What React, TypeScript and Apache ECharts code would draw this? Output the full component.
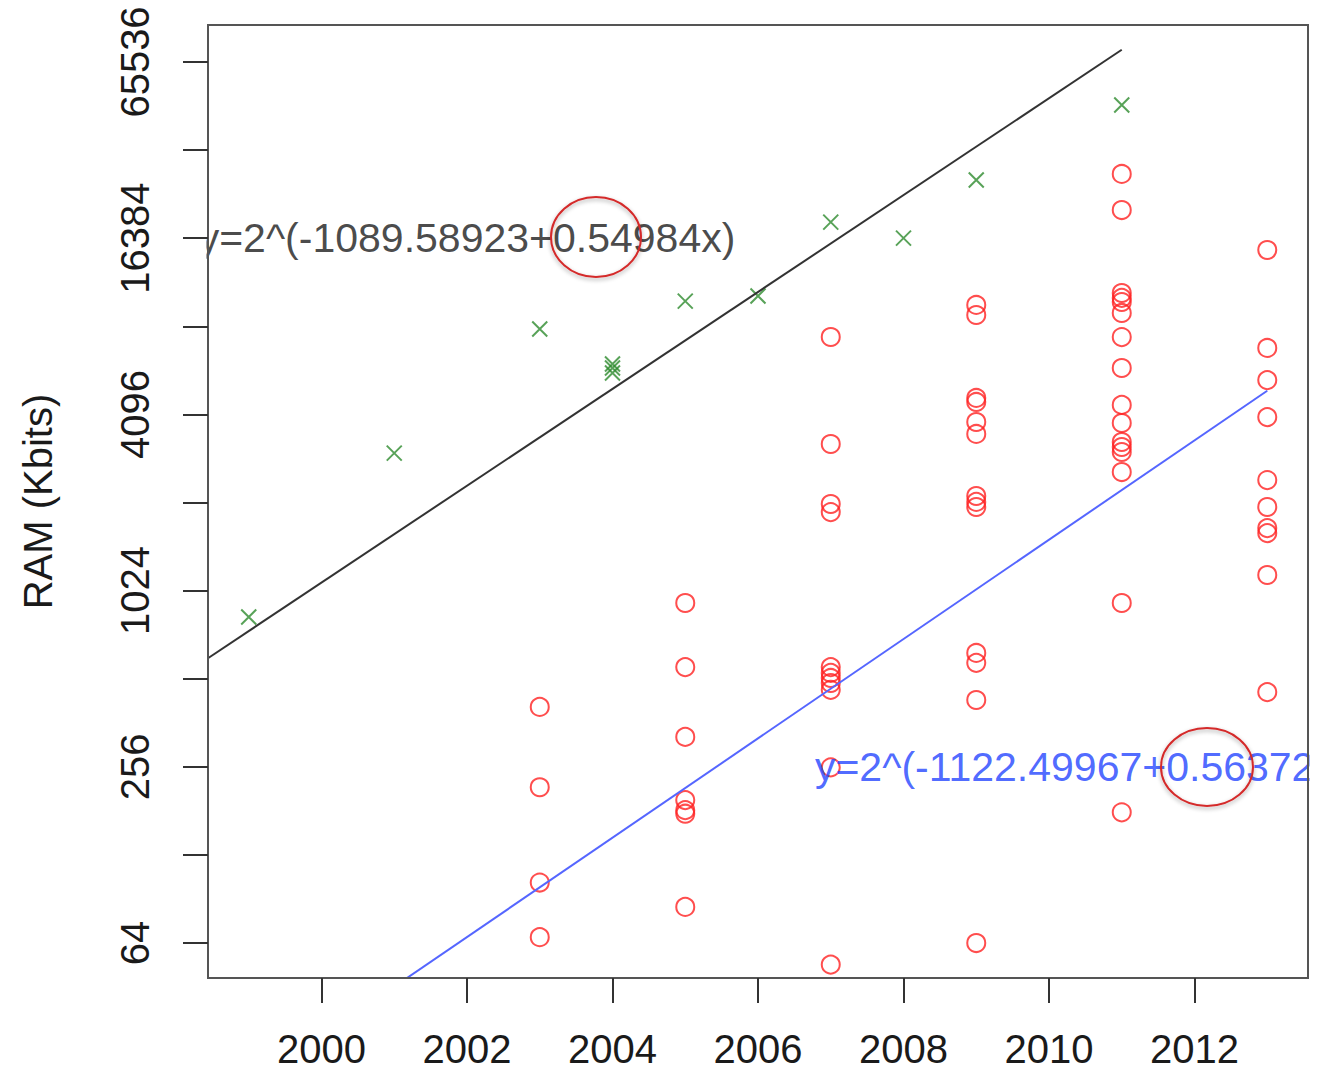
import React, { useEffect, useRef } from "react";
import * as echarts from "echarts";

// ---- data (RAM in Kbits) ----
const peakYears = [1999, 2001, 2003, 2004, 2004, 2004, 2005, 2006, 2007, 2008, 2009, 2011];
const peakRamKbits = [832, 3020, 8020, 6090, 5900, 5670, 9990, 10400, 18600, 16400, 25900, 46700];

const deviceYears = [
  2003, 2003, 2003, 2003,
  2005, 2005, 2005, 2005, 2005, 2005, 2005,
  2007, 2007, 2007, 2007, 2007, 2007, 2007, 2007, 2007, 2007, 2007,
  2009, 2009, 2009, 2009, 2009, 2009, 2009, 2009, 2009, 2009, 2009, 2009, 2009,
  2011, 2011, 2011, 2011, 2011, 2011, 2011, 2011, 2011, 2011, 2011, 2011, 2011, 2011, 2011, 2011,
  2013, 2013, 2013, 2013, 2013, 2013, 2013, 2013, 2013, 2013,
];
const deviceRamKbits = [
  410, 218, 103, 67,
  929, 561, 324, 197, 182, 177, 85,
  7530, 3245, 2024, 1900, 561, 536, 515, 495, 469, 255, 54,
  9690, 8954, 4662, 4517, 3858, 3512, 2156, 2057, 1977, 627, 580, 433, 64,
  27160, 20450, 10645, 10240, 9917, 9098, 7528, 5902, 4413, 3828, 3297, 3170, 3047, 2603, 929, 179,
  14934, 6909, 5367, 4011, 2444, 1977, 1675, 1610, 1158, 461,
];

// fitted lines: log2(y) = a + b * year
const peakFit = { a: -1089.58923, b: 0.54984, from: 1998, to: 2011 };
const deviceFit = { a: -1122.49967, b: 0.56372, from: 2000, to: 2013 };
const peakFitLabel = "y=2^(-1089.58923+0.54984x)";
const deviceFitLabel = "y=2^(-1122.49967+0.56372x)";
const peakLabelAt = [2002, 16384];
const deviceLabelAt = [2010.45, 256];

const xTicks = [2000, 2002, 2004, 2006, 2008, 2010, 2012];
const yTickPowers = [6, 7, 8, 9, 10, 11, 12, 13, 14, 15, 16];
const yLabelPowers = [6, 8, 10, 12, 14, 16];

const X_MIN = 1998.44;
const X_MAX = 2013.56;
const Y_MIN = 5.603; // log2 units
const Y_MAX = 16.42;

const FONT = "'Liberation Sans', Arial, Helvetica, sans-serif";

function fitLine(f: { a: number; b: number; from: number; to: number }) {
  return [
    [f.from, f.a + f.b * f.from],
    [f.to, f.a + f.b * f.to],
  ];
}

export default function App() {
  const ref = useRef<HTMLDivElement>(null);

  useEffect(() => {
    if (!ref.current) return;
    const chart = echarts.init(ref.current, null, { renderer: "svg" });

    const peakData = peakYears.map((y, i) => [y, Math.log2(peakRamKbits[i])]);
    const deviceData = deviceYears.map((y, i) => [y, Math.log2(deviceRamKbits[i])]);

    const option: any = {
      animation: false,
      backgroundColor: "#ffffff",
      grid: {
        left: 208,
        right: 10,
        top: 25,
        bottom: 94,
        containLabel: false,
        outerBoundsMode: "none",
        show: true,
        z: 100,
        borderColor: "#555555",
        borderWidth: 2,
        backgroundColor: "transparent",
      },
      xAxis: {
        type: "value",
        min: X_MIN,
        max: X_MAX,
        z: 100,
        axisLine: { show: false },
        splitLine: { show: false },
        axisTick: {
          show: true,
          customValues: xTicks,
          length: 25,
          lineStyle: { color: "#333333", width: 2 },
        },
        axisLabel: {
          customValues: xTicks,
          fontSize: 40,
          fontFamily: FONT,
          color: "#1a1a1a",
          margin: 51,
          formatter: (v: number) => String(Math.round(v)),
        },
      },
      yAxis: {
        type: "value",
        min: Y_MIN,
        max: Y_MAX,
        z: 100,
        axisLine: { show: false },
        splitLine: { show: false },
        axisTick: {
          show: true,
          customValues: yTickPowers,
          length: 25,
          lineStyle: { color: "#333333", width: 2 },
        },
        axisLabel: {
          customValues: yLabelPowers,
          rotate: 90,
          fontSize: 40,
          fontFamily: FONT,
          color: "#1a1a1a",
          margin: 53,
          formatter: (v: number) => String(Math.round(Math.pow(2, v))),
        },
        name: "RAM (Kbits)",
        nameLocation: "middle",
        nameRotate: 90,
        nameGap: 150,
        nameTextStyle: { fontSize: 40, fontFamily: FONT, color: "#1a1a1a" },
      },
      series: [
        {
          type: "scatter",
          name: "devices",
          data: deviceData,
          symbol: "circle",
          symbolSize: 18,
          z: 2,
          itemStyle: { color: "rgba(0,0,0,0)", borderColor: "#ff2222", borderWidth: 2 },
          silent: true,
        },
        {
          type: "scatter",
          name: "peak",
          data: peakData,
          symbol: "path://M0 0L10 10M10 0L0 10",
          symbolSize: 15,
          z: 2,
          itemStyle: { color: "rgba(0,0,0,0)", borderColor: "#2e8b2e", borderWidth: 2 },
          silent: true,
        },
        {
          type: "line",
          data: fitLine(peakFit),
          showSymbol: false,
          symbol: "none",
          clip: true,
          z: 3,
          lineStyle: { color: "#333333", width: 2 },
          silent: true,
        },
        {
          type: "line",
          data: fitLine(deviceFit),
          showSymbol: false,
          symbol: "none",
          clip: true,
          z: 3,
          lineStyle: { color: "#5566ff", width: 2 },
          silent: true,
        },
        {
          type: "scatter",
          data: [[peakLabelAt[0], Math.log2(peakLabelAt[1])]],
          symbolSize: 1,
          z: 4,
          itemStyle: { color: "rgba(0,0,0,0)" },
          silent: true,
          label: {
            show: true,
            position: "inside",
            formatter: peakFitLabel,
            fontSize: 41,
            fontFamily: FONT,
            color: "#1a1a1a",
          },
        },
        {
          type: "scatter",
          data: [[deviceLabelAt[0], Math.log2(deviceLabelAt[1])]],
          symbolSize: 1,
          z: 4,
          itemStyle: { color: "rgba(0,0,0,0)" },
          silent: true,
          label: {
            show: true,
            position: "inside",
            formatter: deviceFitLabel,
            fontSize: 41,
            fontFamily: FONT,
            color: "#2244ff",
          },
        },
      ],
      graphic: [
        // clip text outside plot region
        { type: "rect", z: 50, shape: { x: 1309.5, y: 0, width: 30, height: 1072 }, style: { fill: "#ffffff" } },
        { type: "rect", z: 50, shape: { x: 175, y: 210, width: 31.5, height: 58 }, style: { fill: "#ffffff" } },
        // hand-drawn annotation ellipses
        {
          type: "ellipse",
          z: 120,
          shape: { cx: 596, cy: 237, rx: 45, ry: 40 },
          style: {
            fill: "none",
            stroke: "#d42a2a",
            lineWidth: 2,
            shadowBlur: 4,
            shadowColor: "rgba(0,0,0,0.35)",
            shadowOffsetY: 2,
          },
        },
        {
          type: "ellipse",
          z: 120,
          shape: { cx: 1207, cy: 767, rx: 46, ry: 39 },
          style: {
            fill: "none",
            stroke: "#d42a2a",
            lineWidth: 2,
            shadowBlur: 4,
            shadowColor: "rgba(0,0,0,0.35)",
            shadowOffsetY: 2,
          },
        },
      ],
    };

    chart.setOption(option);
    return () => chart.dispose();
  }, []);

  return (
    <div
      ref={ref}
      style={{ position: "absolute", left: 0, top: 0, width: 1318, height: 1072, background: "#fff" }}
    />
  );
}
